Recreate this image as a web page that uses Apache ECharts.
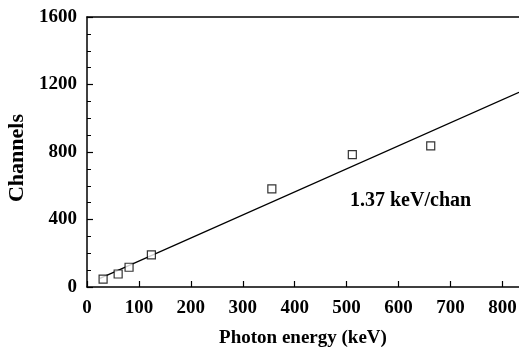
<!DOCTYPE html>
<html>
<head>
<meta charset="utf-8">
<script src="https://cdn.jsdelivr.net/npm/echarts@6/dist/echarts.min.js"></script>
<style>
  html, body { margin: 0; padding: 0; background: #fff; }
  #chart { width: 519px; height: 349px; }
</style>
</head>
<body>
<div id="chart"></div>
<script>
// measured calibration points (keV, channel)
const energies = [31, 60, 81, 124, 356, 511, 662]
const channels = [47, 77, 117, 190, 581, 784, 836]

// fitted line end points
const fitEnergy = [25, 832]
const fitChannel = [51, 1154]

const xTicks = [0, 100, 200, 300, 400, 500, 600, 700, 800]
const yTicks = [0, 400, 800, 1200, 1600]

const FONT = '"Liberation Serif", "DejaVu Serif", serif'

const chart = echarts.init(document.getElementById('chart'), null, { renderer: 'canvas' })

const labelStyle = { color: '#000', fontFamily: FONT, fontWeight: 'bold', fontSize: 19 }

chart.setOption({
    animation: false,
    grid: { left: 87, right: 0, top: 17, bottom: 62, outerBoundsMode: 'none' },
    xAxis: [
        {
            type: 'value',
            min: 0,
            max: 832,
            interval: 100,
            name: 'Photon energy (keV)',
            nameLocation: 'middle',
            nameGap: 42,
            nameTextStyle: { color: '#000', fontFamily: FONT, fontWeight: 'bold', fontSize: 19 },
            axisLine: { lineStyle: { color: '#000', width: 1.5 } },
            axisTick: { inside: true, length: 6, lineStyle: { color: '#000', width: 1.2 } },
            axisLabel: Object.assign({ margin: 12, showMaxLabel: false,
                formatter: v => xTicks.includes(v) ? String(v) : '' }, labelStyle),
            splitLine: { show: false }
        },
        {
            type: 'value',
            position: 'top',
            min: 0,
            max: 832,
            axisLine: { show: true, lineStyle: { color: '#000', width: 1.5 } },
            axisTick: { show: false },
            axisLabel: { show: false },
            splitLine: { show: false }
        }
    ],
    yAxis: {
        type: 'value',
        min: 0,
        max: 1600,
        interval: 400,
        name: 'Channels',
        nameLocation: 'middle',
        nameGap: 57,
        nameTextStyle: { color: '#000', fontFamily: FONT, fontWeight: 'bold', fontSize: 22, padding: [0, 12, 0, 0] },
        axisLine: { show: true, lineStyle: { color: '#000', width: 1.5 } },
        axisTick: { inside: true, length: 6, lineStyle: { color: '#000', width: 1.2 } },
        minorTick: { show: true, splitNumber: 4, length: 4, lineStyle: { color: '#000', width: 1 } },
        axisLabel: Object.assign({ margin: 10,
            formatter: v => yTicks.includes(v) ? String(v) : '' }, labelStyle),
        splitLine: { show: false }
    },
    series: [
        {
            type: 'line',
            data: fitEnergy.map((e, i) => [e, fitChannel[i]]),
            showSymbol: false,
            lineStyle: { color: '#000', width: 1.3 },
            z: 1
        },
        {
            type: 'scatter',
            data: energies.map((e, i) => [e, channels[i]]),
            symbol: 'rect',
            symbolSize: 8,
            itemStyle: { color: '#fff', borderColor: '#000', borderWidth: 1.2 },
            z: 2
        }
    ],
    graphic: [
        {
            type: 'text',
            left: 350,
            top: 191,
            style: { text: '1.37 keV/chan', fill: '#000', font: 'bold 20px ' + FONT }
        }
    ]
})
</script>
</body>
</html>
